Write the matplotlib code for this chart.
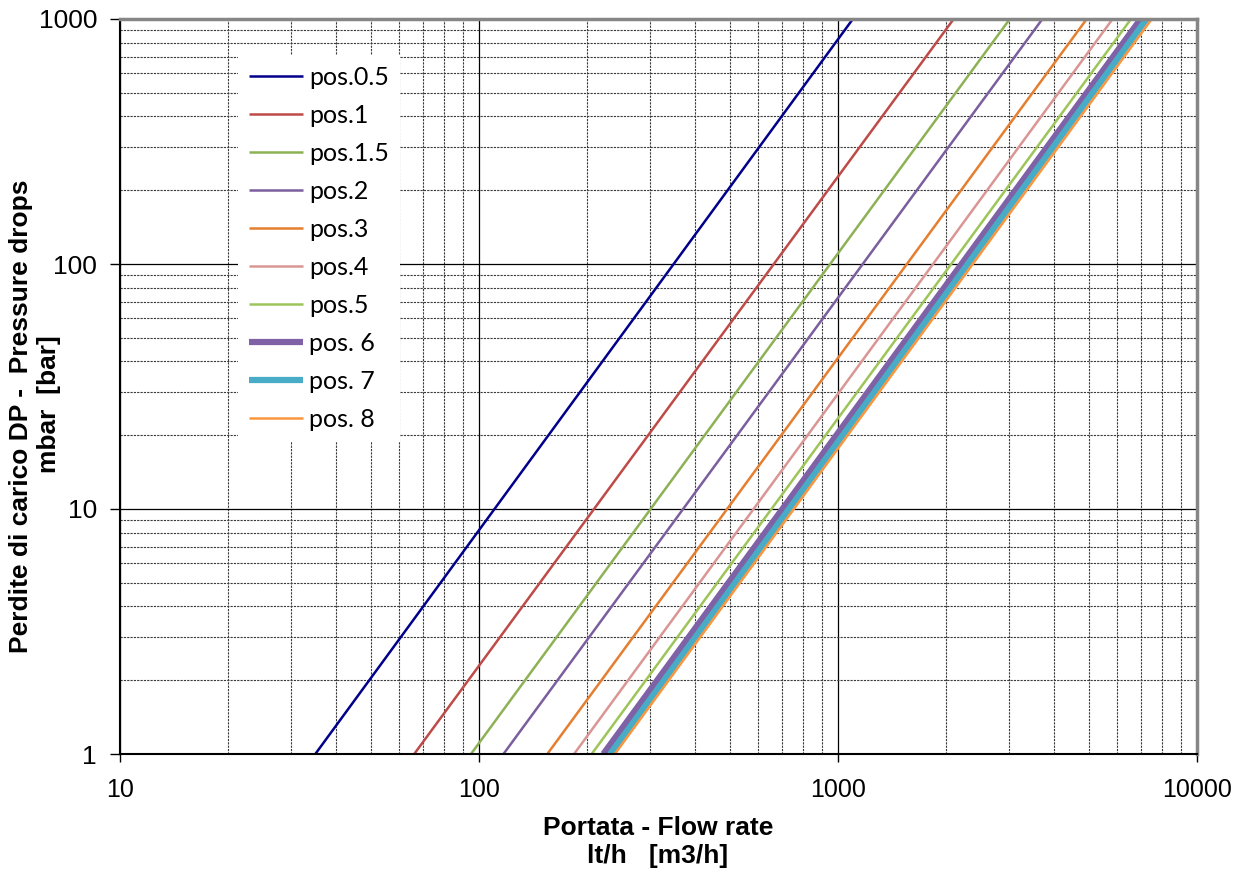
import matplotlib
matplotlib.use("Agg")
import matplotlib.pyplot as plt
from matplotlib.ticker import LogLocator, NullFormatter, FixedLocator, FixedFormatter

# ---- data ----
series_labels = ['pos.0.5', 'pos.1', 'pos.1.5', 'pos.2', 'pos.3',
                 'pos.4', 'pos.5', 'pos. 6', 'pos. 7', 'pos. 8']
# flow rate (l/h) where each curve crosses 1 mbar and 1000 mbar
flow_at_dp_low = [35, 66, 95, 117, 155, 184, 206, 222, 232, 239]
flow_at_dp_high = [1100, 2100, 3010, 3710, 4930, 5820, 6550, 6970, 7240, 7480]
dp_ends = [1, 1000]

x_ticks = [10, 100, 1000, 10000]
x_ticklabels = ['10', '100', '1000', '10000']
y_ticks = [1, 10, 100, 1000]
y_ticklabels = ['1', '10', '100', '1000']

colors = ['#00008B', '#BE4B48', '#8DB255', '#7A5E9E', '#E57E2F',
          '#D99694', '#9DC55A', '#7F62A6', '#48ACC6', '#F9963E']
widths = [1.8, 1.8, 1.8, 1.8, 1.8, 1.8, 1.8, 4.5, 4.5, 1.8]

W, H = 1246, 872
fig = plt.figure(figsize=(W / 100, H / 100), dpi=100)
ax = fig.add_axes([120 / W, 1 - 754 / H, (1197 - 120) / W, (754 - 19) / H])

for lab, q1, q2, c, lw in zip(series_labels, flow_at_dp_low, flow_at_dp_high, colors, widths):
    ax.plot([q1, q2], dp_ends, color=c, lw=lw, label=lab, solid_capstyle='butt')

ax.set_xscale('log')
ax.set_yscale('log')
ax.set_xlim(10, 10000)
ax.set_ylim(1, 1000)

ax.xaxis.set_major_locator(FixedLocator(x_ticks))
ax.xaxis.set_major_formatter(FixedFormatter(x_ticklabels))
ax.yaxis.set_major_locator(FixedLocator(y_ticks))
ax.yaxis.set_major_formatter(FixedFormatter(y_ticklabels))
ax.xaxis.set_minor_locator(LogLocator(base=10, subs=range(2, 10)))
ax.yaxis.set_minor_locator(LogLocator(base=10, subs=range(2, 10)))
ax.xaxis.set_minor_formatter(NullFormatter())
ax.yaxis.set_minor_formatter(NullFormatter())

ax.grid(which='major', color='black', lw=0.9, ls='-')
ax.grid(which='minor', color='#3a3a3a', lw=0.8, ls=(0, (2, 1)))
ax.set_axisbelow(True)

ax.tick_params(which='minor', length=0)
ax.tick_params(axis='x', which='major', direction='out', length=6, width=1,
               labelsize=18, pad=11)
ax.tick_params(axis='y', which='major', direction='out', length=7, width=1,
               labelsize=19, pad=9.5)
for t in ax.get_xticklabels() + ax.get_yticklabels():
    t.set_fontfamily('Liberation Sans')

for s in ['top', 'right']:
    ax.spines[s].set_color('#868686')
    ax.spines[s].set_linewidth(2.5)
for s in ['left', 'bottom']:
    ax.spines[s].set_color('black')
    ax.spines[s].set_linewidth(1.5)

leg = ax.legend(loc='upper left', bbox_to_anchor=(238 / W, 1 - 55 / H),
                bbox_transform=fig.transFigure, borderaxespad=0,
                frameon=True, fancybox=False, framealpha=1,
                edgecolor='none', facecolor='white',
                prop={'family': 'Lato', 'size': 18},
                handlelength=2.15, handletextpad=0.25, labelspacing=0.6,
                borderpad=0.45)

fig.text(658 / W, 1 - 842 / H, 'Portata - Flow rate\nlt/h   [m3/h]',
         ha='center', va='center', fontsize=19, fontweight='bold',
         family='Liberation Sans', linespacing=1.25)
fig.text(21 / W, 1 - 416 / H, 'Perdite di carico DP -  Pressure drops',
         ha='center', va='center', rotation=90, fontsize=19, fontweight='bold',
         family='Liberation Sans')
fig.text(49 / W, 1 - 404 / H, 'mbar  [bar]',
         ha='center', va='center', rotation=90, fontsize=19, fontweight='bold',
         family='Liberation Sans')

fig.savefig('out.png', dpi=100)
